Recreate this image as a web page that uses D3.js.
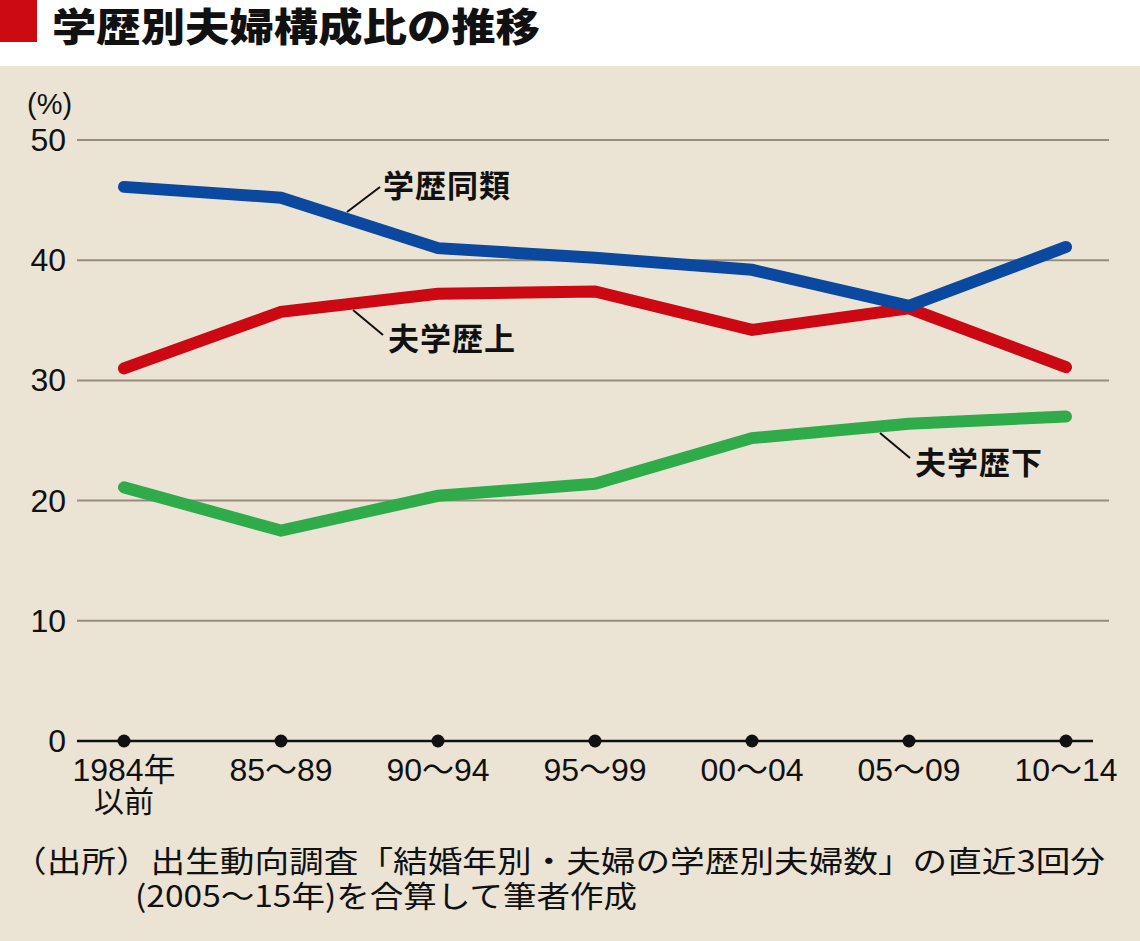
<!DOCTYPE html>
<html><head><meta charset="utf-8">
<script src="https://cdn.jsdelivr.net/npm/d3@7"></script>
<style>body{margin:0;background:#fff}svg{display:block}</style>
</head><body>
<script>
const categories = ["1984年\n以前","85～89","90～94","95～99","00～04","05～09","10～14"];
const sameEdu  = [46.1, 45.2, 41.0, 40.2, 39.2, 36.2, 41.1];
const husHigher = [31.0, 35.7, 37.2, 37.4, 34.2, 36.0, 31.1];
const husLower  = [21.1, 17.5, 20.4, 21.4, 25.2, 26.4, 27.0];
const yTicks = [0, 10, 20, 30, 40, 50];
const seriesNames = ["学歴同類", "夫学歴上", "夫学歴下"];

const W = 1140, H = 941;
const svg = d3.select("body").append("svg").attr("width", W).attr("height", H);
const jp = "'Noto Sans CJK JP','Noto Sans',sans-serif";
const num = "'Liberation Sans',Arial,sans-serif";

// background panel
svg.append("rect").attr("x",0).attr("y",66).attr("width",W).attr("height",H-66).attr("fill","#ebe4d4");

// title
svg.append("rect").attr("x",0).attr("y",0).attr("width",37).attr("height",42).attr("fill","#cc0a14");
svg.append("text").attr("x",52).attr("y",41).attr("font-family",jp).attr("font-weight",900)
  .attr("font-size",39).attr("fill","#111").attr("textLength",488).attr("lengthAdjust","spacingAndGlyphs")
  .text("学歴別夫婦構成比の推移");

const x = d3.scalePoint().domain(d3.range(categories.length)).range([124,1066]);
const y = d3.scaleLinear().domain([0,50]).range([741,140]);

// grid
const g = svg.append("g");
g.selectAll("line.grid").data(yTicks.filter(d=>d>0)).join("line")
  .attr("x1",77).attr("x2",1109).attr("y1",d=>y(d)).attr("y2",d=>y(d))
  .attr("stroke","#958c7c").attr("stroke-width",2);
g.append("line").attr("x1",77).attr("x2",1093).attr("y1",y(0)).attr("y2",y(0))
  .attr("stroke","#111").attr("stroke-width",2.5);

// y tick labels
g.selectAll("text.yt").data(yTicks).join("text")
  .attr("x",66).attr("y",d=>y(d)+11).attr("text-anchor","end")
  .attr("font-family",num).attr("font-size",32).attr("fill","#111").text(d=>d);
svg.append("text").attr("x",27).attr("y",114).attr("font-family",num).attr("font-size",29)
  .attr("fill","#111").text("(%)");

// x dots and labels
g.selectAll("circle.xd").data(categories.map((c,i)=>i)).join("circle")
  .attr("cx",d=>x(d)).attr("cy",y(0)).attr("r",6.5).attr("fill","#111");
categories.forEach((c,i)=>{
  const lines = c.split("\n");
  lines.forEach((t,j)=>{
    svg.append("text").attr("x",x(i)).attr("y",781+j*31).attr("text-anchor","middle")
      .attr("font-family",`${num.split(",")[0]},${jp}`).attr("font-size",j ? 30 : 32).attr("fill","#111").text(t);
  });
});

// lines
const line = d3.line().x((d,i)=>x(i)).y(d=>y(d));
const series = [
  {name:seriesNames[0], values:sameEdu, color:"#0b48a0"},
  {name:seriesNames[1], values:husHigher, color:"#cc0812"},
  {name:seriesNames[2], values:husLower, color:"#2fab4a"}
];
[series[1], series[0], series[2]].forEach(s=>{
  svg.append("path").datum(s.values).attr("d",line).attr("fill","none")
    .attr("stroke",s.color).attr("stroke-width",12).attr("stroke-linecap","round").attr("stroke-linejoin","miter");
});

// series labels with leader lines
const labels = [
  {name:seriesNames[0], lx1:347, ly1:212, lx2:380, ly2:187, tx:383, ty:197},
  {name:seriesNames[1], lx1:353, ly1:310, lx2:383, ly2:335, tx:388, ty:350},
  {name:seriesNames[2], lx1:880, ly1:433, lx2:910, ly2:458, tx:915, ty:474}
];
labels.forEach(l=>{
  svg.append("line").attr("x1",l.lx1).attr("y1",l.ly1).attr("x2",l.lx2).attr("y2",l.ly2)
    .attr("stroke","#111").attr("stroke-width",2);
  svg.append("text").attr("x",l.tx).attr("y",l.ty).attr("font-family",jp).attr("font-weight",700)
    .attr("font-size",31).attr("fill","#111").attr("textLength",127).text(l.name);
});

// source note
svg.append("text").attr("x",12).attr("y",872).attr("font-family",jp).attr("font-size",30)
  .attr("fill","#111").attr("textLength",1093).attr("lengthAdjust","spacingAndGlyphs")
  .text("（出所）出生動向調査「結婚年別・夫婦の学歴別夫婦数」の直近3回分");
svg.append("text").attr("x",135).attr("y",907).attr("font-family",jp).attr("font-size",30)
  .attr("fill","#111").attr("textLength",502).attr("lengthAdjust","spacingAndGlyphs").text("(2005～15年)を合算して筆者作成");
</script>
</body></html>
